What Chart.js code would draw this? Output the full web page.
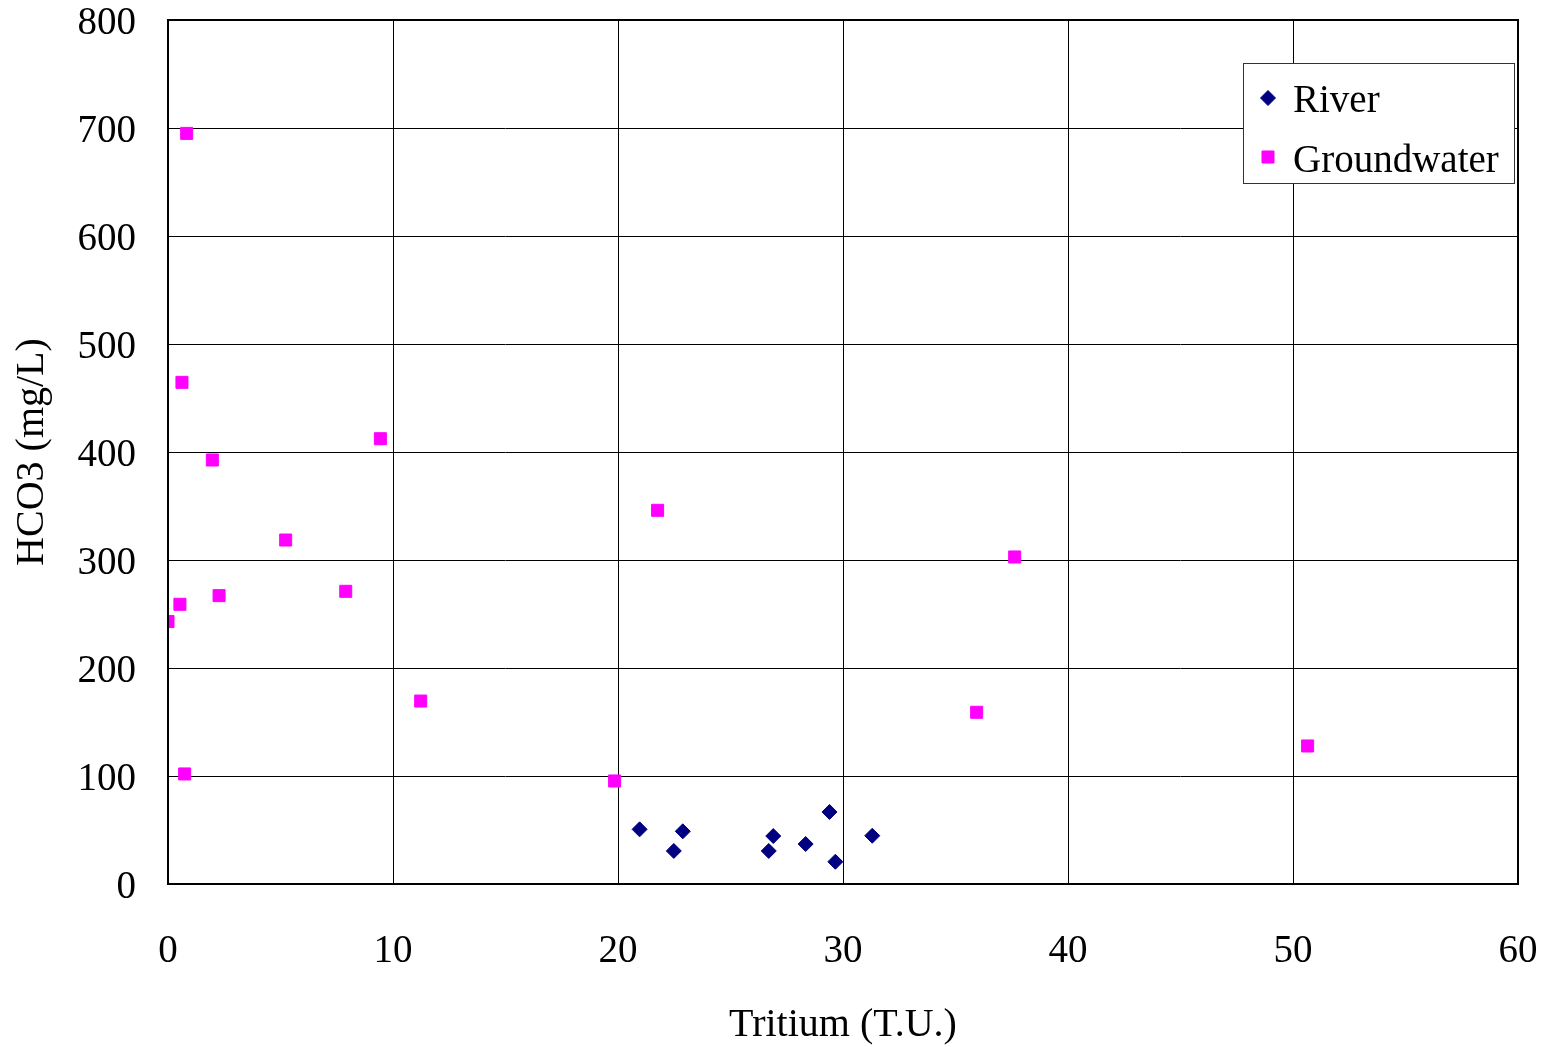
<!DOCTYPE html>
<html>
<head>
<meta charset="utf-8">
<style>
  html, body { margin: 0; padding: 0; background: #fff; }
  #wrap { width: 1546px; height: 1047px; }
</style>
<script src="https://cdn.jsdelivr.net/npm/chart.js@4/dist/chart.umd.min.js"></script>
</head>
<body>
<div id="wrap"><canvas id="chart"></canvas></div>
<script>
// ---- data ----
const riverTritium = [20.96, 22.48, 22.88, 26.7, 26.9, 28.34, 29.4, 29.66, 31.3];
const riverHCO3    = [50.6, 30.6, 48.8, 30.6, 44.4, 37, 66.7, 20.6, 44.7];

const groundTritium = [0.83, 0.62, 9.44, 1.97, 5.23, 7.9, 2.27, 0.53, 0, 11.23, 0.74, 19.85, 21.76, 37.63, 35.94, 50.65];
const groundHCO3    = [695, 464.5, 412.3, 392.6, 318.5, 271, 267, 259, 243, 169.4, 101.9, 95.4, 346, 302.8, 159, 127.8];

const xMin = 0, xMax = 60, xStep = 10;
const yMin = 0, yMax = 800, yStep = 100;

const FONT = "'Liberation Serif', 'Times New Roman', serif";
const NAVY = "#000080";
const MAGENTA = "#FF00FF";

function toPoints(xs, ys) {
  return xs.map((x, i) => ({ x: x, y: ys[i] }));
}

// no extra room for overhanging tick labels, layout padding decides
function noOverhang(scale) {
  scale.paddingTop = 0;
  scale.paddingBottom = 0;
  scale.paddingLeft = 0;
  scale.paddingRight = 0;
}

// frame around the plot area + legend box inside it
const framePlugin = {
  id: "frame",
  afterDraw(chart) {
    const { ctx, chartArea: a } = chart;
    ctx.save();
    ctx.strokeStyle = "#000";
    ctx.lineWidth = 2;
    ctx.strokeRect(a.left, a.top, a.right - a.left, a.bottom - a.top);

    // legend
    const bw = 271, bh = 120;
    const bx = a.right - 4 - bw, by = a.top + 43;
    ctx.fillStyle = "#fff";
    ctx.fillRect(bx, by, bw, bh);
    ctx.strokeStyle = "#333";
    ctx.lineWidth = 1;
    ctx.strokeRect(bx + 0.5, by + 0.5, bw, bh);

    const ds = chart.data.datasets;
    const rows = [
      { label: ds[0].label, color: NAVY, style: "rectRot", r: 7.5, cy: by + 35, base: by + 49 },
      { label: ds[1].label, color: MAGENTA, style: "rect", r: 8.5, cy: by + 94, base: by + 109 }
    ];
    rows.forEach((row) => {
      ctx.fillStyle = row.color;
      ctx.strokeStyle = row.color;
      ctx.lineWidth = 1;
      Chart.helpers.drawPoint(ctx, { pointStyle: row.style, radius: row.r, borderWidth: 1 }, bx + 25, row.cy);
      ctx.fillStyle = "#000";
      ctx.font = "39px " + FONT;
      ctx.textAlign = "left";
      ctx.textBaseline = "alphabetic";
      ctx.fillText(row.label, bx + 50, row.base);
    });
    ctx.restore();
  }
};

new Chart(document.getElementById("chart"), {
  type: "scatter",
  data: {
    datasets: [
      {
        label: "River",
        data: toPoints(riverTritium, riverHCO3),
        pointStyle: "rectRot",
        pointRadius: 7.5,
        pointHoverRadius: 7.5,
        backgroundColor: NAVY,
        borderColor: NAVY,
        borderWidth: 1
      },
      {
        label: "Groundwater",
        data: toPoints(groundTritium, groundHCO3),
        pointStyle: "rect",
        pointRadius: 8.5,
        pointHoverRadius: 8.5,
        backgroundColor: MAGENTA,
        borderColor: MAGENTA,
        borderWidth: 1
      }
    ]
  },
  options: {
    responsive: true,
    maintainAspectRatio: false,
    animation: false,
    layout: { padding: { top: 20, right: 28, left: 0, bottom: 0 } },
    plugins: {
      legend: { display: false },
      tooltip: { enabled: false }
    },
    scales: {
      x: {
        type: "linear",
        min: xMin,
        max: xMax,
        ticks: {
          stepSize: xStep,
          color: "#000",
          padding: 44,
          font: { family: FONT, size: 39 }
        },
        grid: { color: "#000", lineWidth: 1, drawTicks: false },
        border: { display: false },
        title: {
          display: true,
          text: "Tritium (T.U.)",
          color: "#000",
          font: { family: FONT, size: 40, lineHeight: 1.1 },
          padding: { top: 0, bottom: 0 }
        },
        afterFit(scale) { scale.height = 163; noOverhang(scale); }
      },
      y: {
        type: "linear",
        min: yMin,
        max: yMax,
        ticks: {
          stepSize: yStep,
          color: "#000",
          padding: 32,
          labelOffset: 4,
          font: { family: FONT, size: 39 }
        },
        grid: { color: "#000", lineWidth: 1, drawTicks: false },
        border: { display: false },
        title: {
          display: true,
          text: "HCO3 (mg/L)",
          color: "#000",
          font: { family: FONT, size: 40, lineHeight: 1.1 },
          padding: { top: 10, bottom: 0 }
        },
        afterFit(scale) { scale.width = 168; noOverhang(scale); }
      }
    }
  },
  plugins: [framePlugin]
});
</script>
</body>
</html>
